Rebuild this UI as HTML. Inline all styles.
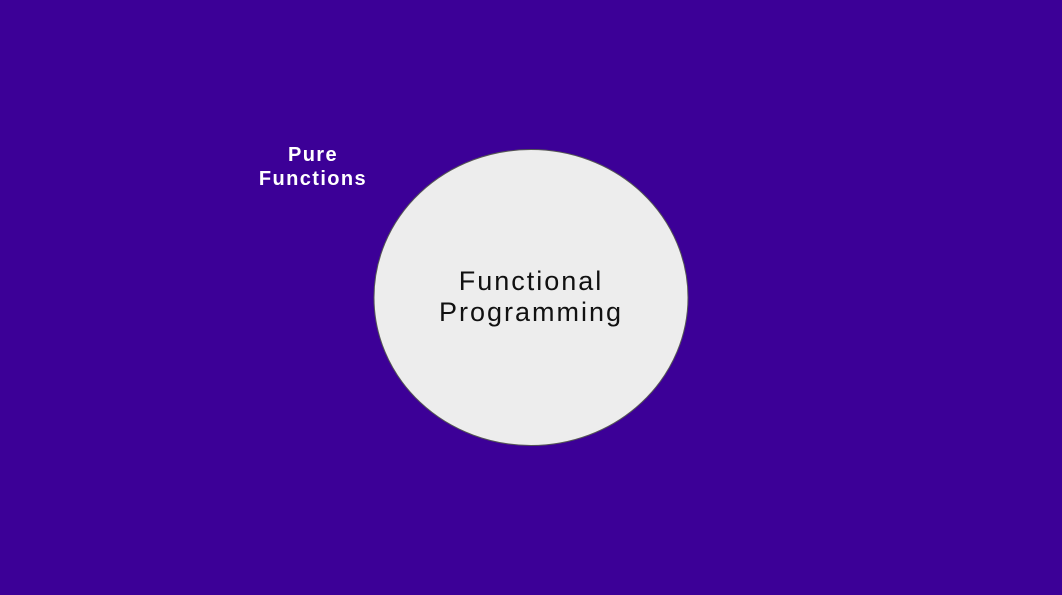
<!DOCTYPE html>
<html><head><style>
html,body{margin:0;padding:0;}
body{width:1062px;height:595px;background:#3c0097;position:relative;overflow:hidden;font-family:"Liberation Sans",sans-serif;}
.pf{position:absolute;left:233px;top:143px;width:160px;text-align:center;color:#fff;font-weight:bold;font-size:20px;line-height:24px;letter-spacing:1.4px;}
.fp{position:absolute;left:381px;top:266px;width:300px;text-align:center;color:#111;font-size:27px;line-height:31px;letter-spacing:2px;}
</style></head><body>
<svg width="1062" height="595" style="position:absolute;left:0;top:0">
<ellipse cx="531" cy="297.5" rx="157" ry="148" fill="#ededed" stroke="#555" stroke-width="1"/>
</svg>
<div class="pf">Pure<br>Functions</div>
<div class="fp">Functional<br>Programming</div>
</body></html>
